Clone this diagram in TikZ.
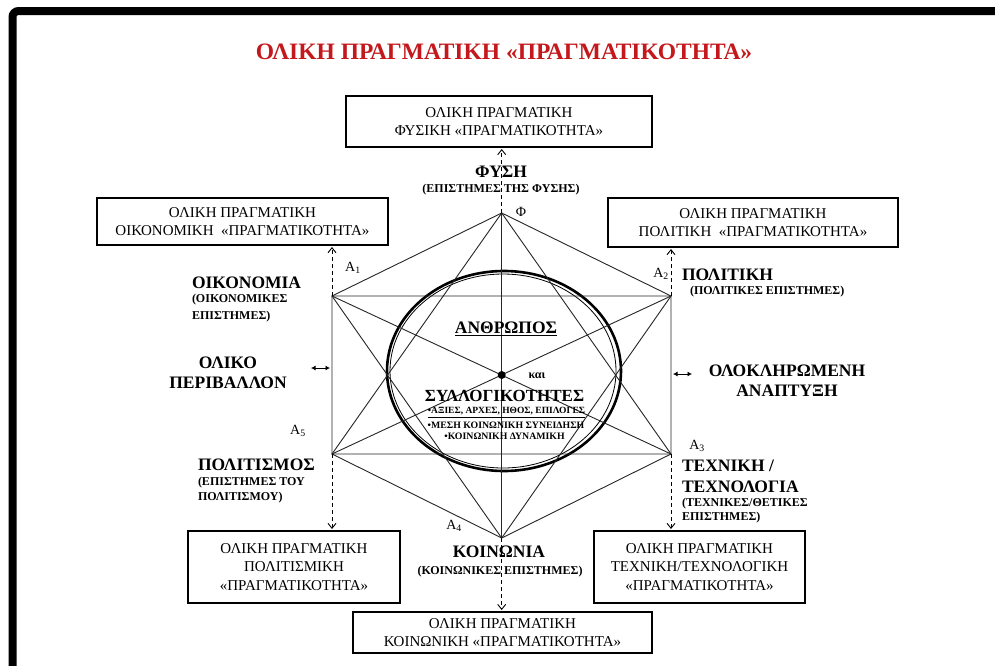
\documentclass[tikz,border=0pt]{standalone}
\usepackage{fontspec}
\setmainfont{Liberation Serif}
\usetikzlibrary{arrows.meta}
\definecolor{titlered}{RGB}{196,24,28}
\newcommand{\fsz}[2]{\fontsize{#1}{#2}\selectfont}
\begin{document}
\begin{tikzpicture}[x=1pt,y=-1pt,
  every node/.style={inner sep=0pt, outer sep=0pt},
  box/.style={draw, line width=1.1pt, align=center, font=\fsz{15}{18.5}},
  big/.style={font=\bfseries\fsz{17.5}{20.5}},
  sub/.style={font=\bfseries\fsz{12}{15}},
  alab/.style={font=\fsz{14}{15}},
  geo/.style={line width=0.9pt, draw=black!85},
  dasharrow/.style={line width=0.9pt, dash pattern=on 4pt off 3pt, shorten >=2pt, -{Straight Barb[length=5pt,width=8pt]}},
  dbl/.style={line width=1pt, {Latex[length=4.5pt,width=5pt]}-{Latex[length=4.5pt,width=5pt]}},
]
\useasboundingbox (0,0) rectangle (995,665);
\fill[white] (0,0) rectangle (995,665);
% frame
\draw[line width=8pt, rounded corners=6pt] (12.5,680) -- (12.5,11) -- (1010,11);

% title
\node[font=\bfseries\fsz{23.5}{26}, text=titlered] (title) at (504,52) {ΟΛΙΚΗ ΠΡΑΓΜΑΤΙΚΗ «ΠΡΑΓΜΑΤΙΚΟΤΗΤΑ»};

% vertices
\coordinate (F) at (501.7,213);
\coordinate (A1) at (332,296);
\coordinate (A2) at (671,296);
\coordinate (A3) at (671,454);
\coordinate (A5) at (332,454);
\coordinate (A4) at (501.7,538);
\coordinate (C) at (501.7,375);

% ellipses
\draw[line width=2.6pt] (504,371) ellipse [x radius=117, y radius=100];
\draw[line width=0.8pt] (503,371) ellipse [x radius=113, y radius=97];

% hexagon and star
\draw[geo] (F) -- (A2) -- (A3) -- (A4) -- (A5) -- (A1) -- cycle;
\draw[geo] (F) -- (A3) -- (A5) -- cycle;
\draw[geo] (A4) -- (A1) -- (A2) -- cycle;
\draw[geo] (F) -- (A4);
\draw[geo] (A1) -- (A3);
\draw[geo] (A2) -- (A5);
\fill (C) circle (4);

% boxes
\node[box, minimum width=306, minimum height=51] (bF) at (499,121.5) {ΟΛΙΚΗ ΠΡΑΓΜΑΤΙΚΗ\\ΦΥΣΙΚΗ «ΠΡΑΓΜΑΤΙΚΟΤΗΤΑ»};
\node[box, minimum width=291, minimum height=47] (bA1) at (242.5,221.5) {ΟΛΙΚΗ ΠΡΑΓΜΑΤΙΚΗ\\ΟΙΚΟΝΟΜΙΚΗ \ «ΠΡΑΓΜΑΤΙΚΟΤΗΤΑ»};
\node[box, minimum width=290, minimum height=49] (bA2) at (753,222.5) {ΟΛΙΚΗ ΠΡΑΓΜΑΤΙΚΗ\\ΠΟΛΙΤΙΚΗ \ «ΠΡΑΓΜΑΤΙΚΟΤΗΤΑ»};
\node[box, minimum width=212, minimum height=72] (bA5) at (294,567) {ΟΛΙΚΗ ΠΡΑΓΜΑΤΙΚΗ\\ΠΟΛΙΤΙΣΜΙΚΗ\\«ΠΡΑΓΜΑΤΙΚΟΤΗΤΑ»};
\node[box, minimum width=211, minimum height=72] (bA3) at (699.5,567) {ΟΛΙΚΗ ΠΡΑΓΜΑΤΙΚΗ\\ΤΕΧΝΙΚΗ/ΤΕΧΝΟΛΟΓΙΚΗ\\«ΠΡΑΓΜΑΤΙΚΟΤΗΤΑ»};
\node[box, minimum width=299, minimum height=41] (bA4) at (502.5,632.5) {ΟΛΙΚΗ ΠΡΑΓΜΑΤΙΚΗ\\ΚΟΙΝΩΝΙΚΗ «ΠΡΑΓΜΑΤΙΚΟΤΗΤΑ»};

% dashed arrows
\draw[dasharrow] (F) -- (F |- bF.south);
\draw[dasharrow] (A1) -- (A1 |- bA1.south);
\draw[dasharrow] (A2) -- (A2 |- bA2.south);
\draw[dasharrow] (A5) -- (A5 |- bA5.north);
\draw[dasharrow] (A3) -- (A3 |- bA3.north);
\draw[dasharrow] (A4) -- (A4 |- bA4.north);

% double arrows
\coordinate (dl1) at (311,368);
\coordinate (dl2) at (330,368);
\coordinate (dr1) at (673,374);
\coordinate (dr2) at (692,374);
\draw[dbl] (dl1) -- (dl2);
\draw[dbl] (dr1) -- (dr2);

% vertex labels
\node[alab] (lF) at (521,212) {Φ};
\node[alab] (lA1) at (353,268) {A\textsubscript{1}};
\node[alab] (lA2) at (661,274) {A\textsubscript{2}};
\node[alab] (lA3) at (697,446) {A\textsubscript{3}};
\node[alab] (lA4) at (454,526) {A\textsubscript{4}};
\node[alab] (lA5) at (298,431) {A\textsubscript{5}};

% domain labels
\node[big] (nF) at (501,172) {ΦΥΣΗ};
\node[sub] (nFs) at (501,190) {(ΕΠΙΣΤΗΜΕΣ ΤΗΣ ΦΥΣΗΣ)};
\node[big, anchor=west] (nA1) at (192,283) {ΟΙΚΟΝΟΜΙΑ};
\node[sub, anchor=west, align=left, font=\bfseries\fsz{12}{17}] (nA1s) at (192,308.5) {(ΟΙΚΟΝΟΜΙΚΕΣ\\ΕΠΙΣΤΗΜΕΣ)};
\node[big, anchor=west] (nA2) at (682,275) {ΠΟΛΙΤΙΚΗ};
\node[sub, anchor=west] (nA2s) at (690,292) {(ΠΟΛΙΤΙΚΕΣ ΕΠΙΣΤΗΜΕΣ)};
\node[big, align=center] (env) at (228,373) {ΟΛΙΚΟ\\ΠΕΡΙΒΑΛΛΟΝ};
\node[big, align=center] (dev) at (787,380.5) {ΟΛΟΚΛΗΡΩΜΕΝΗ\\ΑΝΑΠΤΥΞΗ};
\node[big, anchor=west] (nA5) at (198,465) {ΠΟΛΙΤΙΣΜΟΣ};
\node[sub, anchor=west, align=left, font=\bfseries\fsz{12}{14.5}] (nA5s) at (198,490) {(ΕΠΙΣΤΗΜΕΣ ΤΟΥ\\ΠΟΛΙΤΙΣΜΟΥ)};
\node[big, anchor=west, align=left] (nA3) at (682,476.5) {ΤΕΧΝΙΚΗ /\\ΤΕΧΝΟΛΟΓΙΑ};
\node[sub, anchor=west, align=left, font=\bfseries\fsz{12}{13.5}] (nA3s) at (682,510.5) {(ΤΕΧΝΙΚΕΣ/ΘΕΤΙΚΕΣ\\ΕΠΙΣΤΗΜΕΣ)};
\node[big] (nA4) at (499,552) {ΚΟΙΝΩΝΙΑ};
\node[sub] (nA4s) at (500,572) {(ΚΟΙΝΩΝΙΚΕΣ ΕΠΙΣΤΗΜΕΣ)};

% centre texts
\node[font=\bfseries\fsz{17.5}{18}] (man) at (506,329) {\underline{ΑΝΘΡΩΠΟΣ}};
\node[font=\bfseries\fsz{12}{13}] (kai) at (537,376) {και};
\node[font=\bfseries\fsz{17}{18}] (coll) at (504.5,396) {ΣΥΛΛΟΓΙΚΟΤΗΤΕΣ};
\node[font=\bfseries\fsz{9.5}{10}] (v1) at (506.5,412.5) {\underline{•ΑΞΙΕΣ, ΑΡΧΕΣ, ΗΘΟΣ, ΕΠΙΛΟΓΕΣ}};
\node[font=\bfseries\fsz{9.8}{10}] (v2) at (506,425) {•ΜΕΣΗ ΚΟΙΝΩΝΙΚΗ ΣΥΝΕΙΔΗΣΗ};
\node[font=\bfseries\fsz{9.8}{10}] (v3) at (504.5,436.5) {•ΚΟΙΝΩΝΙΚΗ ΔΥΝΑΜΙΚΗ};
\end{tikzpicture}
\end{document}
